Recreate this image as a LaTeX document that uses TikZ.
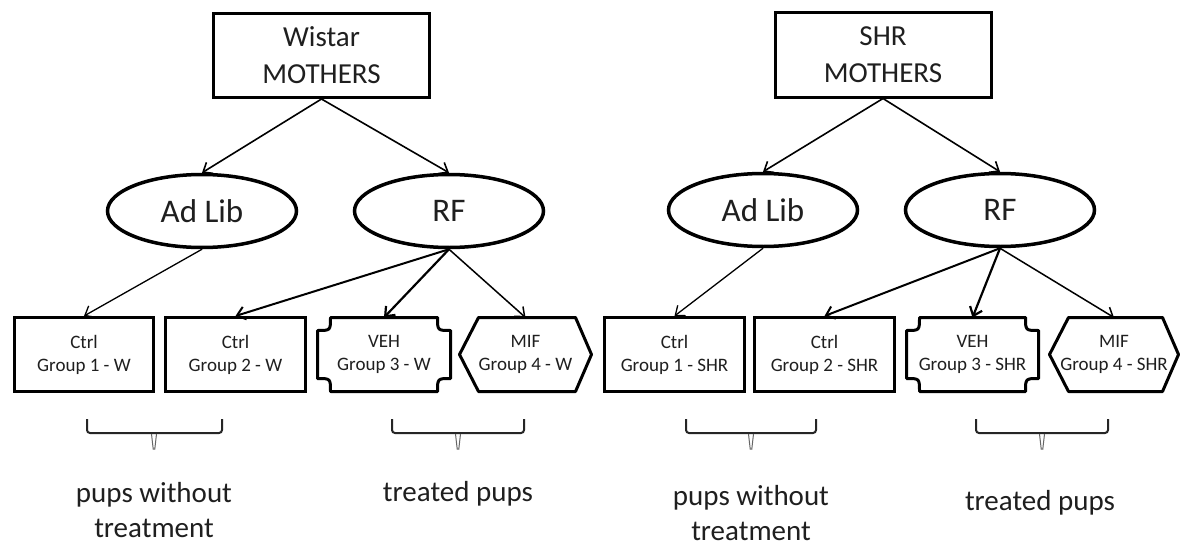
\documentclass[tikz,border=0pt]{standalone}
\usepackage{fontspec}
\setmainfont{Carlito}
\usetikzlibrary{arrows.meta,shapes.geometric,calc}
\begin{document}
\begin{tikzpicture}[x=1pt,y=-1pt,
  txt/.style={text=black!88},
  mbox/.style={draw, line width=3pt, minimum width=216pt, minimum height=84pt, inner sep=0pt,
    align=center, font=\fontsize{29}{37}\selectfont, txt},
  ell/.style={draw, ellipse, line width=3.5pt, minimum width=189pt, minimum height=73pt, inner sep=0pt,
    font=\fontsize{33}{40}\selectfont, txt},
  gbox/.style={draw, line width=3pt, minimum height=74pt, inner sep=0pt, align=center,
    font=\fontsize{19}{23}\selectfont, txt},
  gshape/.style={minimum height=74pt, inner sep=0pt, outer sep=0pt, align=center,
    font=\fontsize{19}{23}\selectfont, txt},
  outl/.style={draw, line width=3pt, line join=round},
  arr/.style={-{Straight Barb[length=8pt,width=13pt]}, line width=1.6pt},
  bracel/.style={draw=black!85, line width=2pt, rounded corners=3pt},
  tickl/.style={draw=black!60, line width=1pt},
  lab/.style={align=center, font=\fontsize{29}{35}\selectfont, txt, inner sep=0pt},
]
\useasboundingbox (0,0) rectangle (1180,551);
\fill[white] (0,0) rectangle (1180,551);

% mothers
\node[mbox] (wm) at (321.5,55.5) {Wistar\\MOTHERS};
\node[mbox] (sm) at (883,55) {SHR\\MOTHERS};

% ellipses
\node[ell] (alw) at (202,211) {Ad Lib};
\node[ell] (rfw) at (449,211) {RF};
\node[ell] (als) at (763,210) {Ad Lib};
\node[ell] (rfs) at (1000,210) {RF};

% group boxes
\node[gbox, minimum width=139pt] (c1w) at (84,354.5) {Ctrl\\Group 1 - W};
\node[gbox, minimum width=140pt] (c2w) at (235.5,354.5) {Ctrl\\Group 2 - W};
\node[gshape, minimum width=133pt] (vw) at (384,354.5) {VEH\\Group 3 - W};
\node[gshape, minimum width=132pt] (mw) at (525.5,354.5) {MIF\\Group 4 - W};
\node[gbox, minimum width=140pt] (c1s) at (674.5,354.5) {Ctrl\\Group 1 - SHR};
\node[gbox, minimum width=140pt] (c2s) at (824.5,354.5) {Ctrl\\Group 2 - SHR};
\node[gshape, minimum width=132pt] (vs) at (972.5,354.5) {VEH\\Group 3 - SHR};
\node[gshape, minimum width=129pt] (ms) at (1114,354.5) {MIF\\Group 4 - SHR};

% VEH outlines (concave corners)
\foreach \n in {vw,vs}{
  \draw[outl] ($(\n.north west)+(13,0)$) -- ($(\n.north east)+(-13,0)$)
    .. controls ($(\n.north east)+(-13,13)$) .. ($(\n.north east)+(0,13)$)
    -- ($(\n.south east)+(0,-13)$)
    .. controls ($(\n.south east)+(-13,-13)$) .. ($(\n.south east)+(-13,0)$)
    -- ($(\n.south west)+(13,0)$)
    .. controls ($(\n.south west)+(13,-13)$) .. ($(\n.south west)+(0,-13)$)
    -- ($(\n.north west)+(0,13)$)
    .. controls ($(\n.north west)+(13,13)$) .. cycle;
}
% MIF outlines (hexagon)
\foreach \n in {mw,ms}{
  \draw[outl] (\n.west) -- ($(\n.north west)+(19,0)$) -- ($(\n.north east)+(-16,0)$)
    -- (\n.east) -- ($(\n.south east)+(-16,0)$) -- ($(\n.south west)+(19,0)$) -- cycle;
}

% arrows
\draw[arr] (wm.south) -- (alw.north);
\draw[arr] (wm.south) -- (rfw.north);
\draw[arr] (sm.south) -- (als.north);
\draw[arr] (sm.south) -- (rfs.north);

\draw[arr, line width=1.3pt] (alw.south) -- (c1w.north);
\draw[arr, line width=2pt] (rfw.south) -- (c2w.north);
\draw[arr, line width=2.2pt] (rfw.south) -- (vw.north);
\draw[arr, line width=1.5pt] (rfw.south) -- (mw.north);

\draw[arr, line width=1.3pt] (als.south) -- (c1s.north);
\draw[arr, line width=2pt] (rfs.south) -- (c2s.north);
\draw[arr, line width=2.2pt] (rfs.south) -- (vs.north);
\draw[arr, line width=1.5pt] (rfs.south) -- (ms.north);

% braces
\foreach \a/\m/\b in {87/154/222, 392/458/524, 686/751/816, 976/1042/1108}{
  \draw[bracel] (\a,419) -- (\a,433) -- (\b,433) -- (\b,419);
  \draw[tickl] (\m-2.5,434) -- (\m-0.8,449) -- (\m+0.8,449) -- (\m+2.5,434);
}

% labels
\node[lab] (l1) at (154,510) {pups without\\treatment};
\node[lab] (l2) at (458,494) {treated pups};
\node[lab] (l3) at (751,513) {pups without\\treatment};
\node[lab] (l4) at (1040,503) {treated pups};
\end{tikzpicture}
\end{document}
